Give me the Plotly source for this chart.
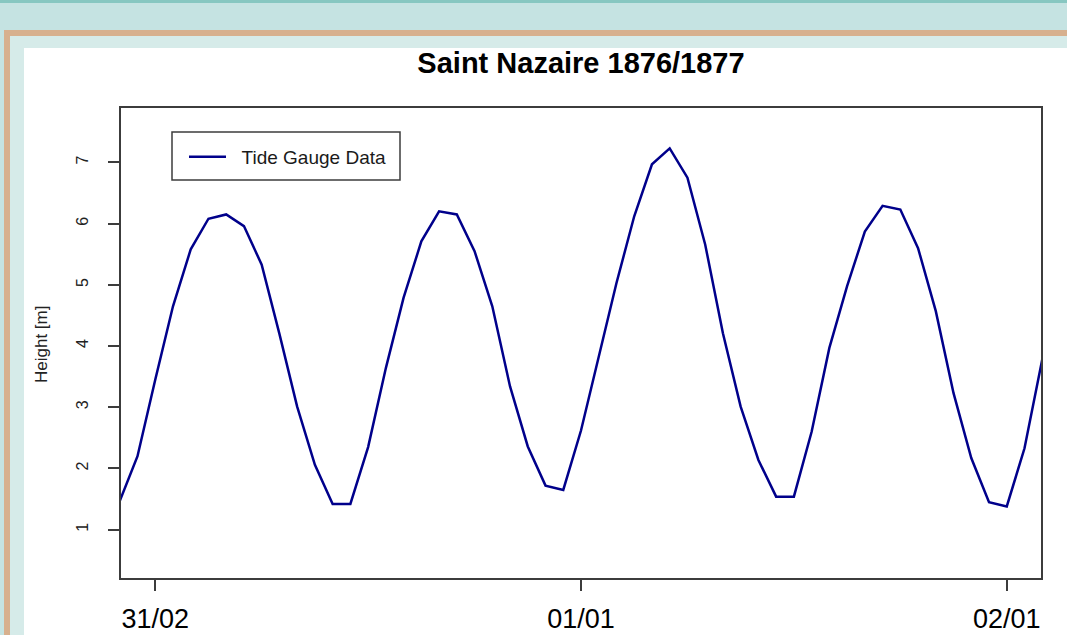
import plotly.graph_objects as go

# hours relative to 31/02 00:00 (hourly tide gauge readings)
hours = list(range(-2, 51))
height_m = [
    1.47, 2.20, 3.45, 4.65, 5.58, 6.08, 6.15, 5.96, 5.33, 4.20,
    3.01, 2.06, 1.42, 1.42, 2.35, 3.64, 4.79, 5.71, 6.20, 6.15,
    5.55, 4.65, 3.34, 2.36, 1.72, 1.65, 2.62, 3.83, 5.03, 6.12,
    6.97, 7.23, 6.75, 5.66, 4.21, 3.01, 2.14, 1.54, 1.54, 2.60,
    3.97, 4.98, 5.87, 6.29, 6.23, 5.60, 4.57, 3.23, 2.17, 1.45,
    1.38, 2.33, 3.78,
]
x_tick_vals = [0, 24, 48]
x_tick_text = ["31/02", "01/01", "02/01"]
y_tick_vals = [1, 2, 3, 4, 5, 6, 7]

W, H = 1067, 635
L, R, T, B = 121, 26, 108, 57
PW, PH = W - L - R, H - T - B


def px(x):
    return (x - L) / PW


def py(y):
    return (H - B - y) / PH


fig = go.Figure()
fig.add_trace(go.Scatter(
    x=hours, y=height_m, mode="lines", name="&nbsp;&nbsp;Tide Gauge Data",
    line=dict(color="#00008B", width=2.5), showlegend=True,
))

shapes = [
    # page decoration
    dict(type="rect", xref="paper", yref="paper", x0=px(-5), x1=px(1100), y0=py(-5), y1=py(3),
         fillcolor="#87c7c1", line=dict(width=0), layer="below"),
    dict(type="rect", xref="paper", yref="paper", x0=px(4), x1=px(1100), y0=py(30), y1=py(700),
         fillcolor="#d7b08e", line=dict(width=0), layer="below"),
    dict(type="rect", xref="paper", yref="paper", x0=px(10), x1=px(1100), y0=py(36), y1=py(700),
         fillcolor="#d6ebe9", line=dict(width=0), layer="below"),
    dict(type="rect", xref="paper", yref="paper", x0=px(24), x1=px(1100), y0=py(48), y1=py(700),
         fillcolor="#ffffff", line=dict(width=0), layer="below"),
    # legend box
    dict(type="rect", xref="paper", yref="paper", x0=px(172), x1=px(400), y0=py(132), y1=py(180),
         fillcolor="#ffffff", line=dict(width=1.5, color="#3c3c3c"), layer="above"),
]

fig.update_layout(
    width=W, height=H,
    margin=dict(l=L, r=R, t=T, b=B, autoexpand=False),
    paper_bgcolor="#c5e3e2",
    plot_bgcolor="#ffffff",
    font=dict(family="Liberation Sans, Arial, sans-serif", color="#000000"),
    title=dict(text="<b>Saint Nazaire 1876/1877</b>", x=0.5, xref="paper", xanchor="center",
               y=1 - 63 / H, yanchor="middle", yref="container",
               font=dict(size=29, color="#000000")),
    shapes=shapes,
    showlegend=True,
    legend=dict(x=px(184), y=py(157), xanchor="left", yanchor="middle",
                bgcolor="rgba(0,0,0,0)", borderwidth=0,
                font=dict(size=19, color="#1a1a1a"), itemwidth=37),
    annotations=[dict(text="Height [m]", xref="paper", yref="paper", x=px(41), y=py(345),
                      showarrow=False, textangle=-90, font=dict(size=17, color="#222222"),
                      xanchor="center", yanchor="middle")],
)

fig.update_xaxes(
    range=[-1.93, 49.93], tickvals=x_tick_vals, ticktext=x_tick_text,
    showgrid=False, zeroline=False, showline=True, mirror=True,
    linecolor="#3c3c3c", linewidth=1.5,
    ticks="outside", ticklen=11, tickwidth=1.5, tickcolor="#3c3c3c",
    tickfont=dict(size=27, color="#000000"), ticklabelstandoff=5,
)
fig.update_yaxes(
    range=[0.211, 7.889], tickvals=y_tick_vals,
    showgrid=False, zeroline=False, showline=True, mirror=True,
    linecolor="#3c3c3c", linewidth=1.5,
    ticks="outside", ticklen=11, tickwidth=1.5, tickcolor="#3c3c3c",
    tickangle=-90, tickfont=dict(size=16, color="#222222"), ticklabelstandoff=14,
)

fig.write_html(
    "out.html",
    config={"displayModeBar": False},
    post_script=["document.body.style.margin='0';document.body.style.background='#c5e3e2';"],
)
